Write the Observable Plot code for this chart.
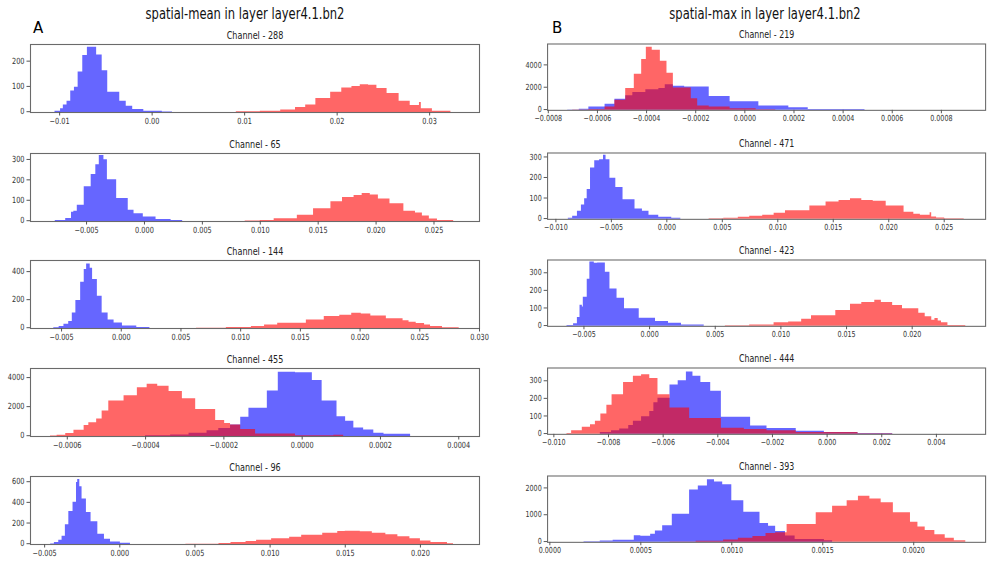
<!DOCTYPE html>
<html><head><meta charset="utf-8">
<script src="https://cdn.jsdelivr.net/npm/d3@7"></script>
<script src="https://cdn.jsdelivr.net/npm/@observablehq/plot@0.6"></script>
<style>
html,body{margin:0;padding:0;overflow:hidden;background:#fff;width:990px;height:565px;}
#root{position:relative;width:990px;height:565px;overflow:hidden;font-family:"DejaVu Sans";}
.panel{position:absolute;}
.sup{position:absolute;font-size:15px;line-height:15px;color:#111;white-space:nowrap;transform:translateX(-50%) scaleX(0.77);}
.letter{position:absolute;font-size:15px;line-height:15px;color:#000;}
</style></head><body><div id="root"></div><script>
// ---------- data (bin edges and counts) ----------
const supTitles = ["spatial-mean in layer layer4.1.bn2", "spatial-max in layer layer4.1.bn2"];
const letters = ["A", "B"];
const channels = ["Channel - 288","Channel - 65","Channel - 144","Channel - 455","Channel - 96",
                  "Channel - 219","Channel - 471","Channel - 423","Channel - 444","Channel - 393"];

// A1 Channel 288
const a288BlueEdges = [-0.0105,-0.0099,-0.0096,-0.0092,-0.0088,-0.0084,-0.0080,-0.0075,-0.0070,-0.0065,-0.0060,-0.0054,-0.0048,-0.0035,-0.0028,-0.0021,-0.0009,0.0011,0.0022];
const a288BlueCounts = [5,15,30,45,85,100,160,225,258,258,227,165,80,45,25,12,5,2];
const a288RedEdges = [0.0091,0.0117,0.0139,0.0155,0.0166,0.0177,0.0193,0.0205,0.0216,0.0225,0.0234,0.0243,0.0254,0.0267,0.0279,0.0289,0.0291,0.0303,0.0323];
const a288RedCounts = [3,5,10,20,30,55,80,97,103,110,108,95,75,45,28,40,15,5];
// A2 Channel 65
const a65BlueEdges = [-0.0077,-0.0068,-0.0063,-0.0061,-0.0058,-0.0052,-0.0046,-0.0042,-0.0039,-0.0035,-0.0032,-0.0024,-0.0014,-0.0009,-0.0001,0.0010,0.0023,0.0033];
const a65BlueCounts = [5,15,45,50,80,170,230,278,323,303,205,113,55,38,22,10,5];
const a65RedEdges = [0.0087,0.0100,0.0112,0.0132,0.0146,0.0161,0.0171,0.0181,0.0188,0.0195,0.0202,0.0212,0.0224,0.0234,0.0240,0.0246,0.0253,0.0267];
const a65RedCounts = [3,5,13,30,63,97,117,127,137,130,110,87,50,42,27,12,5];
// A3 Channel 144
const a144BlueEdges = [-0.00565,-0.0052,-0.0048,-0.0044,-0.0041,-0.0038,-0.0034,-0.0031,-0.0029,-0.0026,-0.0024,-0.0020,-0.0016,-0.0011,-0.0006,0.0001,0.0013,0.0024];
const a144BlueCounts = [5,15,30,50,110,200,330,420,460,430,350,230,110,60,40,18,7];
const a144RedEdges = [0.0063,0.0088,0.0109,0.0120,0.0131,0.0155,0.0170,0.0183,0.0193,0.0201,0.0209,0.0222,0.0236,0.0241,0.0247,0.0254,0.0259,0.0269,0.0283];
const a144RedCounts = [2,8,15,25,38,60,85,95,108,103,90,70,55,45,35,25,15,5];
// A4 Channel 455
const a455BlueEdges = [-0.00040,-0.000336,-0.000289,-0.000243,-0.000213,-0.000183,-0.000157,-0.000136,-0.000089,-0.000061,-0.000017,0.000026,0.000051,0.000089,0.000111,0.000132,0.000157,0.000183,0.000209,0.000277];
const a455BlueCounts = [50,100,230,400,550,800,1320,1950,3140,4430,4380,3860,2450,1360,1045,590,450,230,150];
const a455RedEdges = [-0.000643,-0.000626,-0.000604,-0.000583,-0.000557,-0.000545,-0.000525,-0.000511,-0.000494,-0.000455,-0.000421,-0.000396,-0.000369,-0.000340,-0.000306,-0.000272,-0.000221,-0.000198,-0.000183,-0.000157,-0.000119,-0.000017,0.000081,0.000106];
const a455RedCounts = [30,80,200,430,750,950,1200,1750,2450,2800,3350,3600,3450,3100,2600,1850,1100,900,800,480,180,60,80];
// A5 Channel 96
const a96BlueEdges = [-0.0046,-0.00435,-0.00406,-0.00384,-0.00362,-0.00339,-0.00311,-0.00288,-0.0028,-0.00266,-0.00251,-0.00222,-0.00191,-0.00146,-0.00102,-0.00062,0.00004,0.00071];
const a96BlueCounts = [5,20,40,80,190,320,410,600,630,560,440,310,220,100,50,25,12];
const a96RedEdges = [0.0044,0.0066,0.0074,0.0084,0.0091,0.0101,0.0113,0.0121,0.0135,0.0145,0.0150,0.0160,0.0168,0.0177,0.0185,0.0193,0.0200,0.0207,0.0218,0.0222];
const a96RedCounts = [3,10,20,30,40,55,70,90,110,125,128,123,110,95,75,55,35,20,8];
// B1 Channel 219
const b219BlueEdges = [-0.000721,-0.000674,-0.000635,-0.000569,-0.000529,-0.000485,-0.000456,-0.000403,-0.00035,-0.000324,-0.000291,-0.000245,-0.000145,-0.00006,0.000057,0.000179,0.000258,0.000489];
const b219BlueCounts = [30,100,300,550,1000,1300,1600,1850,1950,2300,2150,2080,1250,780,380,240,80];
const b219RedEdges = [-0.000701,-0.000635,-0.000569,-0.000529,-0.000485,-0.00045,-0.00042,-0.000401,-0.000377,-0.000344,-0.000317,-0.000291,-0.000218,-0.000192,-0.000145,-0.00006,0.000046,0.000126];
const b219RedCounts = [30,80,300,900,1950,3235,4560,5650,5380,4400,3320,2000,1030,400,290,150,50];
// B2 Channel 471
const b471BlueEdges = [-0.00888,-0.00849,-0.00806,-0.0077,-0.00741,-0.00718,-0.00688,-0.0065,-0.00606,-0.00571,-0.00548,-0.00513,-0.0046,-0.00395,-0.00287,-0.0022,-0.00161,-0.00073,0.00044,0.00126];
const b471BlueCounts = [5,15,40,70,100,145,250,285,290,312,290,200,155,95,50,40,20,10,5];
const b471RedEdges = [0.00381,0.00513,0.00644,0.00747,0.00864,0.00967,0.01069,0.01289,0.01435,0.01552,0.01655,0.01757,0.0186,0.01977,0.02138,0.02226,0.02285,0.02373,0.02387,0.02431,0.02504,0.0268];
const b471RedCounts = [3,5,10,15,20,30,42,65,85,92,100,92,88,65,35,25,20,32,12,6,3];
// B3 Channel 423
const b423BlueEdges = [-0.00629,-0.00579,-0.0055,-0.0053,-0.00512,-0.00505,-0.00475,-0.00455,-0.00421,-0.00396,-0.00337,-0.00302,-0.00248,-0.00191,-0.00079,0.00045,0.00144,0.00243,0.00416];
const b423BlueCounts = [5,15,50,120,110,165,267,365,358,360,307,212,160,100,46,28,18,7];
const b423RedEdges = [0.00577,0.00762,0.00948,0.01059,0.01158,0.01233,0.01418,0.0153,0.01616,0.01715,0.01765,0.01851,0.01926,0.0205,0.02099,0.02149,0.02173,0.02198,0.02223,0.02272,0.02408];
const b423RedCounts = [3,8,20,25,40,60,90,125,135,148,135,118,100,75,55,35,45,30,20,5];
// B4 Channel 444
const b444BlueEdges = [-0.0083,-0.00789,-0.00759,-0.00726,-0.00709,-0.00679,-0.00649,-0.00634,-0.00619,-0.00575,-0.00545,-0.00515,-0.00491,-0.00462,-0.00426,-0.00387,-0.0028,-0.0022,-0.00113,-0.0001,0.00113,0.0024];
const b444BlueCounts = [10,20,30,50,75,100,130,180,205,280,305,355,330,295,245,97,48,33,18,10,5];
const b444RedEdges = [-0.00952,-0.00935,-0.00896,-0.00866,-0.00848,-0.00828,-0.00806,-0.00787,-0.00745,-0.00709,-0.00679,-0.00649,-0.00619,-0.00575,-0.00503,-0.00387,-0.00303,-0.0022,-0.00113,0.00113,0.0024];
const b444RedCounts = [5,20,40,55,75,115,165,225,295,330,338,318,225,150,90,35,28,20,10,3];
// B5 Channel 393
const b393BlueEdges = [0.000188,0.000277,0.000348,0.000464,0.0005,0.000554,0.00058,0.00062,0.000673,0.000768,0.000816,0.000866,0.000905,0.00095,0.001,0.001066,0.001155,0.001202,0.001241,0.001295,0.001348,0.001509,0.001554];
const b393BlueCounts = [20,50,80,250,230,300,420,620,1050,1950,2100,2330,2250,2150,1550,1120,700,600,400,240,110,60];
const b393RedEdges = [0.000661,0.000804,0.000955,0.001036,0.001116,0.001188,0.001241,0.001304,0.001464,0.001554,0.001634,0.001696,0.001759,0.001821,0.001888,0.001982,0.002023,0.002063,0.002116,0.002173,0.002223,0.002286];
const b393RedCounts = [10,40,90,150,220,330,360,670,1100,1350,1550,1720,1620,1480,1100,750,570,440,280,150,60];

// tick values
const ticksA1 = [-0.01,0,0.01,0.02,0.03];
const ticksA2 = [-0.005,0,0.005,0.01,0.015,0.02,0.025];
const ticksA3 = [-0.005,0,0.005,0.01,0.015,0.02,0.025,0.03];
const ticksA4 = [-0.0006,-0.0004,-0.0002,0,0.0002,0.0004];
const ticksA5 = [-0.005,0,0.005,0.01,0.015,0.02];
const ticksB1 = [-0.0008,-0.0006,-0.0004,-0.0002,0,0.0002,0.0004,0.0006,0.0008];
const ticksB2 = [-0.01,-0.005,0,0.005,0.01,0.015,0.02,0.025];
const ticksB3 = [-0.005,0,0.005,0.01,0.015,0.02];
const ticksB4 = [-0.01,-0.008,-0.006,-0.004,-0.002,0,0.002,0.004];
const ticksB5 = [0,0.0005,0.001,0.0015,0.002];

// ---------- panel configuration ----------
const panels = [
  {col:0,row:0,title:channels[0],be:a288BlueEdges,bc:a288BlueCounts,re:a288RedEdges,rc:a288RedCounts,xd:[-0.01315,0.03539],yd:[0,269],xt:ticksA1,xf:".2f",yt:[0,100,200]},
  {col:0,row:1,title:channels[1],be:a65BlueEdges,bc:a65BlueCounts,re:a65RedEdges,rc:a65RedCounts,xd:[-0.00984,0.02893],yd:[0,333],xt:ticksA2,xf:".3f",yt:[0,100,200,300]},
  {col:0,row:2,title:channels[2],be:a144BlueEdges,bc:a144BlueCounts,re:a144RedEdges,rc:a144RedCounts,xd:[-0.0076,0.0300],yd:[0,485],xt:ticksA3,xf:".3f",yt:[0,200,400]},
  {col:0,row:3,title:channels[3],be:a455BlueEdges,bc:a455BlueCounts,re:a455RedEdges,rc:a455RedCounts,xd:[-0.000694,0.000453],yd:[0,4680],xt:ticksA4,xf:".4f",yt:[0,2000,4000]},
  {col:0,row:4,title:channels[4],be:a96BlueEdges,bc:a96BlueCounts,re:a96RedEdges,rc:a96RedCounts,xd:[-0.00594,0.02393],yd:[0,658],xt:ticksA5,xf:".3f",yt:[0,200,400,600]},
  {col:1,row:0,title:channels[5],be:b219BlueEdges,bc:b219BlueCounts,re:b219RedEdges,rc:b219RedCounts,xd:[-0.000803,0.00098],yd:[0,5940],xt:ticksB1,xf:".4f",yt:[0,2000,4000]},
  {col:1,row:1,title:channels[6],be:b471BlueEdges,bc:b471BlueCounts,re:b471RedEdges,rc:b471RedCounts,xd:[-0.01075,0.02873],yd:[0,323],xt:ticksB2,xf:".3f",yt:[0,100,200,300]},
  {col:1,row:2,title:channels[7],be:b423BlueEdges,bc:b423BlueCounts,re:b423RedEdges,rc:b423RedCounts,xd:[-0.00777,0.02559],yd:[0,377],xt:ticksB3,xf:".3f",yt:[0,100,200,300]},
  {col:1,row:3,title:channels[8],be:b444BlueEdges,bc:b444BlueCounts,re:b444RedEdges,rc:b444RedCounts,xd:[-0.01023,0.0058],yd:[0,377],xt:ticksB4,xf:".3f",yt:[0,100,200,300]},
  {col:1,row:4,title:channels[9],be:b393BlueEdges,bc:b393BlueCounts,re:b393RedEdges,rc:b393RedCounts,xd:[-0.0000125,0.002395],yd:[0,2473],xt:ticksB5,xf:".4f",yt:[0,1000,2000]}
];

const axesTops = [44, 152.5, 260, 367.5, 476];
const root = document.getElementById("root");

function steps(edges, counts) {
  const pts = counts.map((c, i) => ({x: edges[i], y: c}));
  pts.push({x: edges[edges.length - 1], y: counts[counts.length - 1]});
  return pts;
}
function squeezeText(svg, s) {
  svg.querySelectorAll("text").forEach(t => {
    const tr = t.getAttribute("transform") || "";
    const x = +(t.getAttribute("x") || 0);
    t.setAttribute("transform", `${tr} translate(${x},0) scale(${s},1) translate(${-x},0)`);
  });
}

for (const p of panels) {
  const left = p.col === 0 ? 0 : 510;
  const mL = p.col === 0 ? 30 : 38;
  const width = p.col === 0 ? 484 : 492;
  const top = axesTops[p.row] - 20;
  const fmt = d3.format(p.xf);
  const svg = Plot.plot({
    width, height: 110,
    marginLeft: mL, marginRight: 5, marginTop: 20, marginBottom: 22,
    x: {domain: p.xd, label: null},
    y: {domain: p.yd, label: null},
    style: {fontFamily: "DejaVu Sans", fontSize: "8.5px", color: "#333", background: "transparent", overflow: "visible"},
    marks: [
      Plot.areaY(steps(p.be, p.bc), {x: "x", y: "y", curve: "step-after", fill: "#0000ff", fillOpacity: 0.6}),
      Plot.areaY(steps(p.re, p.rc), {x: "x", y: "y", curve: "step-after", fill: "#ff0000", fillOpacity: 0.6}),
      Plot.frame({stroke: "#6a6a6a", strokeWidth: 1.1}),
      Plot.axisX({ticks: p.xt, tickFormat: fmt, tickSize: 3.5, tickPadding: 1.6, label: null, stroke: "#555"}),
      Plot.axisY({ticks: p.yt, tickFormat: d3.format("d"), tickSize: 3.5, tickPadding: 2.5, dy: -0.8, label: null, stroke: "#555"}),
      Plot.text([p.title], {text: d => d, frameAnchor: "top", dy: -6, lineAnchor: "bottom", fontSize: 10.5, fill: "#222"})
    ]
  });
  squeezeText(svg, 0.77);
  const div = document.createElement("div");
  div.className = "panel";
  div.style.left = left + "px";
  div.style.top = top + "px";
  div.appendChild(svg);
  root.appendChild(div);
}

// column titles and panel letters
[[supTitles[0], 244.5], [supTitles[1], 765]].forEach(([t, cx]) => {
  const d = document.createElement("div");
  d.className = "sup"; d.textContent = t;
  d.style.left = cx + "px"; d.style.top = "6.8px";
  root.appendChild(d);
});
[[letters[0], 33], [letters[1], 552]].forEach(([t, lx]) => {
  const d = document.createElement("div");
  d.className = "letter"; d.textContent = t;
  d.style.left = lx + "px"; d.style.top = "20.6px";
  root.appendChild(d);
});
</script></body></html>
